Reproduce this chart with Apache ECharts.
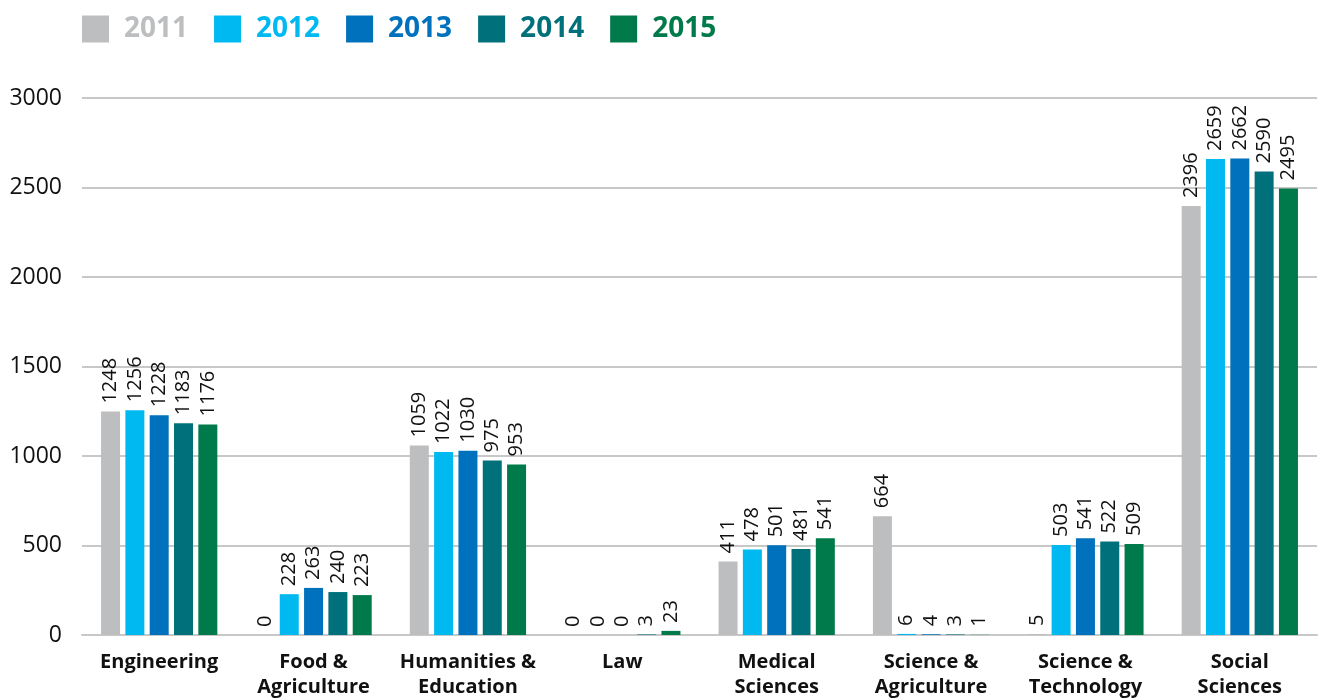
<!DOCTYPE html>
<html>
<head>
<meta charset="utf-8">
<script src="https://cdn.jsdelivr.net/npm/echarts@6/dist/echarts.min.js"></script>
<style>
  html, body { margin: 0; padding: 0; background: #fff; }
  #main { width: 1319px; height: 700px; }
</style>
</head>
<body>
<div id="main"></div>
<script>
var chartDom = document.getElementById('main');
var myChart = echarts.init(chartDom);
var option;

var categories = ['Engineering', 'Food &\nAgriculture', 'Humanities &\nEducation', 'Law',
  'Medical\nSciences', 'Science &\nAgriculture', 'Science &\nTechnology', 'Social\nSciences'];
var years = ['2011', '2012', '2013', '2014', '2015'];
var colors = ['#bcbec0', '#00b9f1', '#0071bc', '#00717a', '#007a4a'];

var v2011 = [1248, 0, 1059, 0, 411, 664, 5, 2396];
var v2012 = [1256, 228, 1022, 0, 478, 6, 503, 2659];
var v2013 = [1228, 263, 1030, 0, 501, 4, 541, 2662];
var v2014 = [1183, 240, 975, 3, 481, 3, 522, 2590];
var v2015 = [1176, 223, 953, 23, 541, 1, 509, 2495];
var allValues = [v2011, v2012, v2013, v2014, v2015];

var yTicks = [0, 500, 1000, 1500, 2000, 2500, 3000];

var fontFam = '"Open Sans", "Noto Sans", sans-serif';

var series = years.map(function (y, i) {
    return {
        name: y,
        type: 'bar',
        data: allValues[i],
        barWidth: 19,
        barGap: '28%',
        itemStyle: { color: colors[i] },
        label: {
            show: true,
            position: 'top',
            rotate: 90,
            align: 'left',
            verticalAlign: 'middle',
            distance: 8,
            color: '#111',
            fontSize: 20,
            fontFamily: fontFam
        }
    };
});

option = {
    animation: false,
    color: colors,
    grid: { left: 82, right: 2, top: 98, bottom: 65 },
    legend: {
        left: 77,
        top: 10,
        itemWidth: 27,
        itemHeight: 27,
        itemGap: 26,
        icon: 'rect',
        data: years.map(function (y, i) {
            return {
                name: y,
                textStyle: {
                    color: colors[i], fontSize: 28, fontWeight: 'bold',
                    fontFamily: fontFam, padding: [0, 0, 0, 10]
                }
            };
        })
    },
    xAxis: {
        type: 'category',
        data: categories,
        axisTick: { show: false },
        axisLine: { show: true, lineStyle: { color: '#c8c8c8', width: 2 } },
        axisLabel: {
            interval: 0,
            color: '#111',
            fontSize: 20,
            fontWeight: 'bold',
            lineHeight: 25,
            margin: 15,
            fontFamily: fontFam
        }
    },
    yAxis: {
        type: 'value',
        min: yTicks[0],
        max: yTicks[yTicks.length - 1],
        interval: 500,
        axisLine: { show: false },
        axisTick: { show: false },
        splitLine: { lineStyle: { color: '#c8c8c8', width: 2 } },
        axisLabel: {
            color: '#111', fontSize: 23, margin: 20, fontFamily: fontFam,
            formatter: function (v) { return String(v); }
        }
    },
    series: series
};

option && myChart.setOption(option);
</script>
</body>
</html>
